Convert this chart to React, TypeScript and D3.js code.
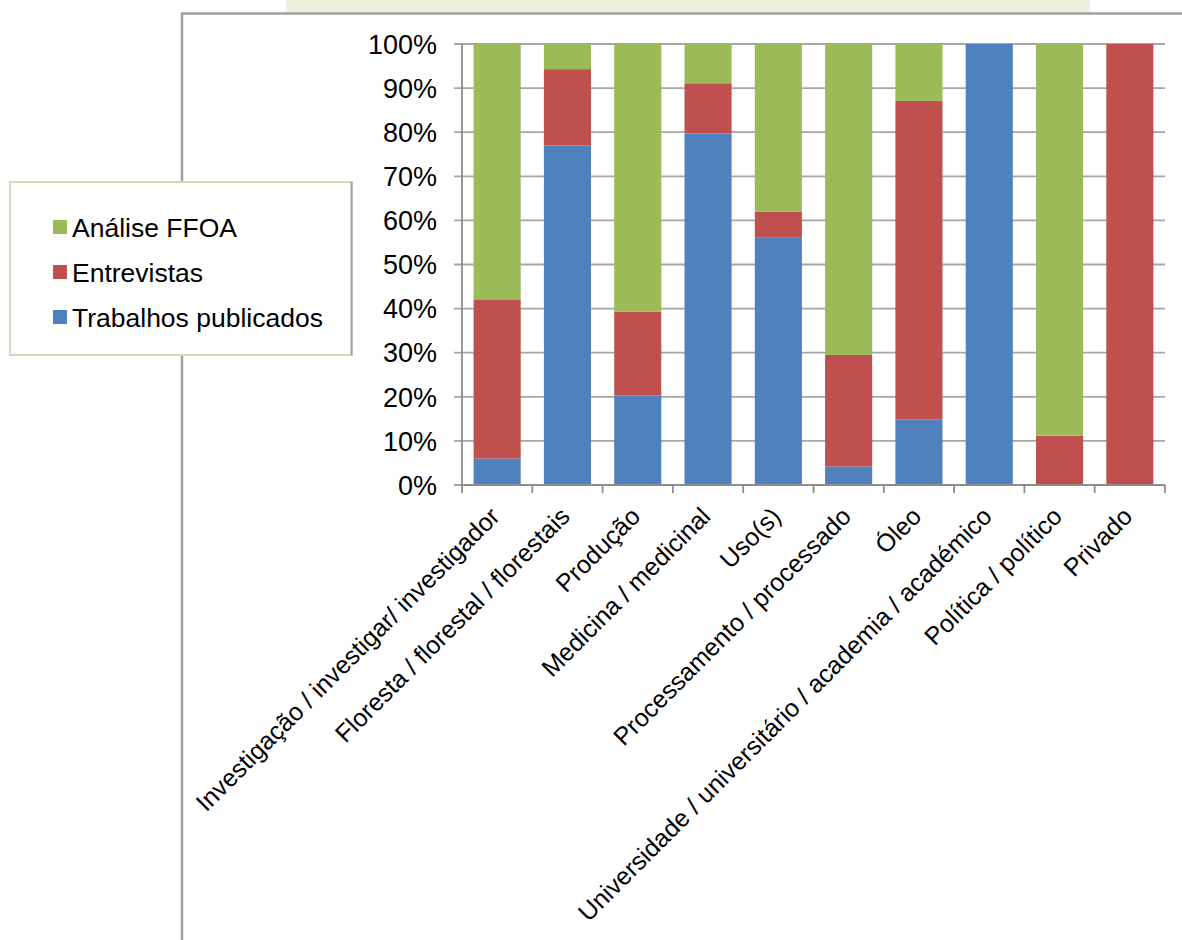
import React from "react";
import * as d3 from "d3";

// Categories and series shares (% of each category)
const categories = [
  "Investigação / investigar/ investigador",
  "Floresta / florestal / florestais",
  "Produção",
  "Medicina / medicinal",
  "Uso(s)",
  "Processamento / processado",
  "Óleo",
  "Universidade / universitário / academia / académico",
  "Política / político",
  "Privado",
];

const trabalhosPublicados = [6, 77, 20.3, 79.7, 56.2, 4.2, 14.9, 100, 0, 0];
const entrevistas = [36.1, 17.3, 19, 11.4, 5.8, 25.3, 72.2, 0, 11.2, 100];
const analiseFFOA = [57.9, 5.7, 60.7, 8.9, 38, 70.5, 12.9, 0, 88.8, 0];

const seriesNames = ["Trabalhos publicados", "Entrevistas", "Análise FFOA"];
const seriesColors = ["#4F81BD", "#C0504D", "#9BBB59"];
const yTicks = [0, 0.1, 0.2, 0.3, 0.4, 0.5, 0.6, 0.7, 0.8, 0.9, 1];

const W = 1182;
const H = 940;
const FONT = "'Liberation Sans', Arial, sans-serif";

export default function App() {
  const rows = categories.map((c, i) => ({
    cat: c,
    [seriesNames[0]]: trabalhosPublicados[i],
    [seriesNames[1]]: entrevistas[i],
    [seriesNames[2]]: analiseFFOA[i],
  }));

  const stacked = d3
    .stack<any>()
    .keys(seriesNames)
    .offset(d3.stackOffsetExpand)(rows);

  const x = d3
    .scaleBand<string>()
    .domain(categories)
    .range([462, 1165])
    .paddingInner(0.33)
    .paddingOuter(0.165);

  const y = d3.scaleLinear().domain([0, 1]).range([485, 44]);
  const fmt = d3.format(".0%");
  const step = x.step();
  const x0 = x.range()[0];

  // legend rows: top-to-bottom in reverse stacking order
  const legendOrder = [2, 1, 0];

  return (
    <svg
      width={W}
      height={H}
      style={{ position: "absolute", left: 0, top: 0, background: "#fff" }}
      fontFamily={FONT}
    >
      {/* title band (cut at the top edge) */}
      <rect x={286} y={-10} width={804} height={23} fill="#EBF1DE" />

      {/* outer frame */}
      <line x1={182} x2={W} y1={13.5} y2={13.5} stroke="#A0A0A0" strokeWidth={2.5} />
      <line x1={182} x2={182} y1={12.5} y2={H} stroke="#A0A0A0" strokeWidth={2.5} />

      {/* gridlines */}
      {yTicks.map((t) => (
        <line
          key={"g" + t}
          x1={454}
          x2={1165}
          y1={y(t)}
          y2={y(t)}
          stroke="#A6A6A6"
          strokeWidth={1.8}
        />
      ))}

      {/* bars */}
      {stacked.map((s, si) => (
        <g key={s.key} fill={seriesColors[si]}>
          {s.map((d, i) =>
            d[1] - d[0] > 0 ? (
              <rect
                key={i}
                x={x(categories[i])}
                width={x.bandwidth()}
                y={y(d[1])}
                height={y(d[0]) - y(d[1])}
              />
            ) : null
          )}
        </g>
      ))}

      {/* axes */}
      <line x1={462} x2={462} y1={y(1)} y2={y(0)} stroke="#8C8C8C" strokeWidth={1.8} />
      <line x1={462} x2={1165} y1={y(0)} y2={y(0)} stroke="#8C8C8C" strokeWidth={1.8} />
      {d3.range(categories.length + 1).map((k) => (
        <line
          key={"xt" + k}
          x1={x0 + k * step}
          x2={x0 + k * step}
          y1={y(0)}
          y2={y(0) + 8}
          stroke="#8C8C8C"
          strokeWidth={1.8}
        />
      ))}

      {/* y tick labels */}
      {yTicks.map((t) => (
        <text
          key={"yl" + t}
          x={437}
          y={y(t)}
          dy="0.36em"
          textAnchor="end"
          fontSize={27}
          fill="#000"
        >
          {fmt(t)}
        </text>
      ))}

      {/* x tick labels */}
      {categories.map((c) => {
        const cx = (x(c) as number) + x.bandwidth() / 2;
        return (
          <text
            key={"xl" + c}
            transform={`translate(${cx + 4},518) rotate(-45)`}
            textAnchor="end"
            fontSize={25}
            fill="#000"
          >
            {c}
          </text>
        );
      })}

      {/* legend */}
      <g>
        <rect x={10} y={182} width={342} height={173} fill="#fff" stroke="#D9D5BE" strokeWidth={2} />
        <line x1={351.5} x2={351.5} y1={182} y2={355} stroke="#A0A0A0" strokeWidth={2} />
        {legendOrder.map((si, r) => {
          const cy = 227 + r * 45;
          return (
            <g key={"lg" + si}>
              <rect x={53} y={cy - 7} width={14} height={14} fill={seriesColors[si]} />
              <text x={72} y={cy} dy="0.36em" fontSize={26.5} fill="#000">
                {seriesNames[si]}
              </text>
            </g>
          );
        })}
      </g>
    </svg>
  );
}
